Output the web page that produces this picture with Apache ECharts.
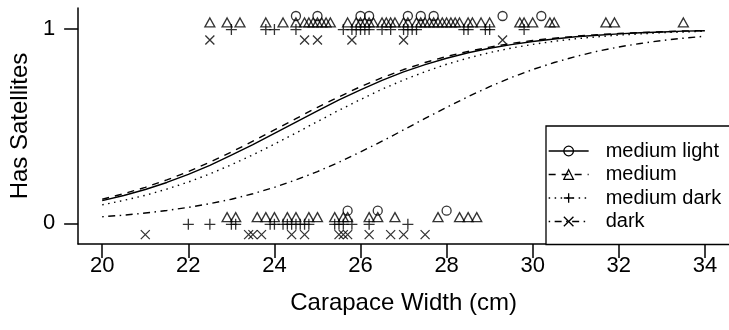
<!DOCTYPE html>
<html><head><meta charset="utf-8">
<script src="https://cdn.jsdelivr.net/npm/echarts@6/dist/echarts.min.js"></script>
<style>html,body{margin:0;padding:0;background:#fff}#c{width:729px;height:330px}</style>
</head><body><div id="c"></div>
<script>
// ---- data ----
const xTicks = [20, 22, 24, 26, 28, 30, 32, 34];
const yTicks = [0, 1];
const legendNames = ['medium light', 'medium', 'medium dark', 'dark'];

// fitted probability curves
const curveWidths = [20,20.5,21,21.5,22,22.5,23,23.5,24,24.5,25,25.5,26,26.5,27,27.5,28,28.5,29,29.5,30,30.5,31,31.5,32,32.5,33,33.5,34];
const fitMediumLight = [0.117,0.143,0.174,0.210,0.252,0.298,0.350,0.404,0.462,0.520,0.578,0.634,0.686,0.734,0.778,0.815,0.848,0.876,0.899,0.918,0.934,0.947,0.958,0.966,0.973,0.979,0.983,0.987,0.989];
const fitMedium      = [0.124,0.152,0.185,0.223,0.266,0.314,0.366,0.422,0.480,0.538,0.596,0.650,0.702,0.748,0.790,0.826,0.857,0.883,0.905,0.924,0.939,0.951,0.961,0.969,0.975,0.980,0.984,0.988,0.990];
const fitMediumDark  = [0.095,0.118,0.144,0.176,0.212,0.254,0.301,0.352,0.407,0.464,0.523,0.581,0.636,0.689,0.736,0.779,0.817,0.849,0.877,0.900,0.919,0.935,0.948,0.958,0.967,0.973,0.979,0.983,0.987];
const fitDark        = [0.034,0.042,0.053,0.066,0.082,0.101,0.124,0.152,0.185,0.223,0.266,0.314,0.367,0.422,0.480,0.539,0.596,0.651,0.702,0.749,0.790,0.826,0.857,0.884,0.906,0.924,0.939,0.951,0.961];

// observed crabs: carapace widths with (Yes) / without (No) satellites
const mediumLightYes = [24.5,25.0,26.0,26.2,27.1,27.4,27.7,29.3,30.2];
const mediumLightNo  = [25.7,26.4,28.0];
const mediumYes = [22.5,22.9,23.2,23.8,24.2,24.5,24.7,24.8,24.9,25.0,25.1,25.2,25.3,25.7,25.9,26.0,26.1,26.2,26.3,26.5,26.6,26.7,26.8,27.0,27.1,27.3,27.4,27.5,27.6,27.7,27.8,27.9,28.0,28.1,28.2,28.3,28.5,28.6,28.8,29.0,29.7,29.8,30.0,30.4,30.5,31.7,31.9,33.5];
const mediumNo  = [22.9,23.1,23.6,23.8,24.0,24.3,24.5,24.8,25.0,25.4,25.6,25.7,26.2,26.4,26.8,27.8,28.3,28.5,28.7];
const mediumDarkYes = [23.0,23.8,24.0,24.5,25.6,25.8,25.9,26.0,26.1,26.2,26.5,26.7,27.0,27.1,27.2,27.3,28.4,28.5,28.9,29.0,29.8];
const mediumDarkNo  = [22.0,22.5,23.0,23.1,23.9,24.0,24.2,24.3,24.4,24.5,24.6,24.7,24.8,25.4,25.5,25.6,25.8,26.2,27.1];
const darkYes = [22.5,24.7,25.0,25.8,27.0,29.3];
const darkNo  = [21.0,23.4,23.5,23.7,24.4,24.7,25.5,25.6,25.7,26.2,26.7,27.0,27.5];

// vertical offsets used to separate the colour groups in the plot
const rowShift = [0.065, 0.032, -0.005, -0.058];

// ---- chart ----
const FONT = '"Liberation Sans", Arial, Helvetica, sans-serif';
const SYM = ['circle', 'triangle', 'path://M5 0L5 10M0 5L10 5', 'path://M0 0L10 10M10 0L0 10'];
const SYMSIZE = [9, [10, 9], 11, 9];
const DASH = ['solid', [7, 6], [1.5, 4.5], [1.5, 4.5, 7, 4.5]];
const fits = [fitMediumLight, fitMedium, fitMediumDark, fitDark];
const yes = [mediumLightYes, mediumYes, mediumDarkYes, darkYes];
const no = [mediumLightNo, mediumNo, mediumDarkNo, darkNo];

const markStyle = {color: 'none', borderColor: '#000', borderWidth: 1.3};
const series = [];
legendNames.forEach((n, i) => {
  series.push({
    type: 'line', name: n, symbol: SYM[i], symbolSize: SYMSIZE[i], showSymbol: false,
    smooth: false, silent: true, z: 3,
    lineStyle: {color: '#000', width: 1.4, type: DASH[i], join: 'round'},
    itemStyle: markStyle,
    data: curveWidths.map((w, k) => [w, fits[i][k]])
  });
});
legendNames.forEach((n, i) => {
  series.push({
    type: 'scatter', name: n, symbol: SYM[i], symbolSize: SYMSIZE[i], silent: true, z: 2,
    itemStyle: markStyle,
    data: yes[i].map(w => [w, 1 + rowShift[i]]).concat(no[i].map(w => [w, 0 + rowShift[i]]))
  });
});

const axisCommon = {
  type: 'value',
  axisLine: {show: true, onZero: false, lineStyle: {color: '#000', width: 1.5}},
  splitLine: {show: false},
  nameLocation: 'middle',
  nameTextStyle: {fontSize: 24, color: '#000', fontFamily: FONT}
};

const chart = echarts.init(document.getElementById('c'), null, {renderer: 'canvas'});
chart.setOption({
  animation: false,
  backgroundColor: '#fff',
  grid: {left: 76, top: 8, width: 655, height: 236},
  xAxis: Object.assign({}, axisCommon, {
    min: 19.44, max: 34.56,
    name: 'Carapace Width (cm)', nameGap: 47,
    axisTick: {show: true, length: 14, customValues: xTicks, lineStyle: {color: '#000', width: 1.5}},
    axisLabel: {customValues: xTicks, fontSize: 22, color: '#000', margin: 11, fontFamily: FONT}
  }),
  yAxis: Object.assign({}, axisCommon, {
    min: -0.106, max: 1.106,
    name: 'Has Satellites', nameGap: 44,
    axisTick: {show: true, length: 14, customValues: yTicks, lineStyle: {color: '#000', width: 1.5}},
    axisLabel: {customValues: yTicks, fontSize: 22, color: '#000', margin: 23, fontFamily: FONT}
  }),
  legend: {
    orient: 'vertical', left: 546, top: 126,
    padding: [15, 30, 13, 2],
    itemWidth: 40, itemHeight: 12, itemGap: 3.5,
    borderColor: '#000', borderWidth: 1.3, borderRadius: 0,
    backgroundColor: '#fff', selectedMode: false,
    textStyle: {fontSize: 20, color: '#000', fontFamily: FONT, padding: [0, 0, 0, 12]},
    data: legendNames.map((n, i) => ({
      name: n,
      itemStyle: {color: 'none', borderColor: '#000', borderWidth: 1.3},
      lineStyle: {color: '#000', width: 1.3, type: DASH[i]}
    }))
  },
  series: series
});
</script>
</body></html>
